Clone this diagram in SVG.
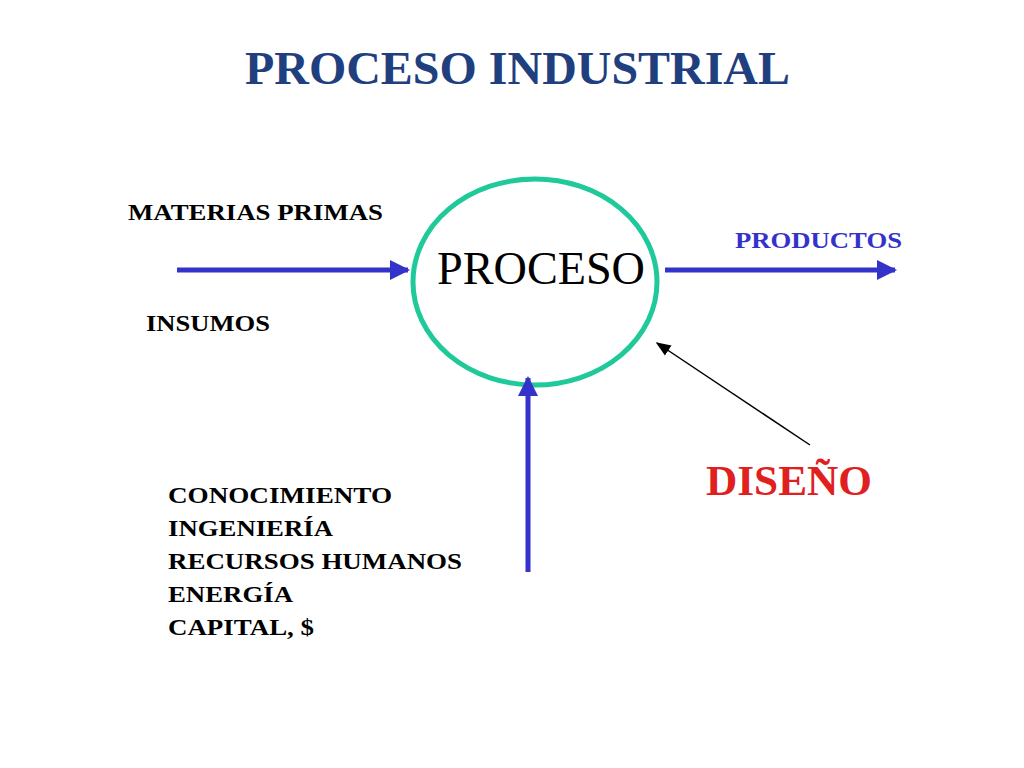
<svg xmlns="http://www.w3.org/2000/svg" width="1024" height="768" viewBox="0 0 1024 768">
<style>
text{font-family:"Liberation Serif","Times New Roman",serif;font-weight:bold}
.s{font-size:24px;fill:#000}
.b{stroke:#3333cc;stroke-width:5;fill:none}
</style>
<defs>
<marker id="ab" viewBox="0 0 10 10" refX="9" refY="5" markerWidth="4" markerHeight="4" orient="auto" markerUnits="strokeWidth"><path d="M0,0L10,5L0,10z" fill="#3333cc"/></marker>
<marker id="ak" viewBox="0 0 10 10" refX="9" refY="5" markerWidth="10" markerHeight="10" orient="auto" markerUnits="strokeWidth"><path d="M0,1L10,5L0,9z" fill="#000"/></marker>
</defs>
<rect width="1024" height="768" fill="#fff"/>
<text x="245" y="84" font-size="47" fill="#1f3f7f" textLength="545" lengthAdjust="spacingAndGlyphs">PROCESO INDUSTRIAL</text>
<g id="proceso">
<ellipse cx="535" cy="282" rx="122" ry="103" fill="none" stroke="#1fc99a" stroke-width="5"/>
<text x="437" y="284" font-size="46" textLength="208" lengthAdjust="spacingAndGlyphs" style="font-weight:normal">PROCESO</text>
</g>
<g id="entradas">
<text class="s" x="128" y="220" textLength="255" lengthAdjust="spacingAndGlyphs">MATERIAS PRIMAS</text>
<text class="s" x="146" y="331" textLength="124" lengthAdjust="spacingAndGlyphs">INSUMOS</text>
</g>
<g id="productos"><text x="735" y="248" font-size="24" fill="#3333cc" textLength="167" lengthAdjust="spacingAndGlyphs">PRODUCTOS</text></g>
<g id="diseno"><text x="706" y="495" font-size="43" fill="#e0201e" textLength="166" lengthAdjust="spacingAndGlyphs">DISEÑO</text></g>
<g id="recursos">
<text class="s" x="168" y="503" textLength="224" lengthAdjust="spacingAndGlyphs">CONOCIMIENTO</text>
<text class="s" x="168" y="536" textLength="165" lengthAdjust="spacingAndGlyphs">INGENIERÍA</text>
<text class="s" x="168" y="569" textLength="294" lengthAdjust="spacingAndGlyphs">RECURSOS HUMANOS</text>
<text class="s" x="168" y="602" textLength="125" lengthAdjust="spacingAndGlyphs">ENERGÍA</text>
<text class="s" x="168" y="635" textLength="146" lengthAdjust="spacingAndGlyphs">CAPITAL, $</text>
</g>
<g id="connectors">
<line class="b" x1="177" y1="270" x2="408" y2="270" marker-end="url(#ab)"/>
<line class="b" x1="665" y1="270" x2="895" y2="270" marker-end="url(#ab)"/>
<line class="b" x1="528" y1="572" x2="528" y2="378" marker-end="url(#ab)"/>
<line x1="810" y1="445" x2="657" y2="343" stroke="#000" stroke-width="1.5" marker-end="url(#ak)"/>
</g>
</svg>
